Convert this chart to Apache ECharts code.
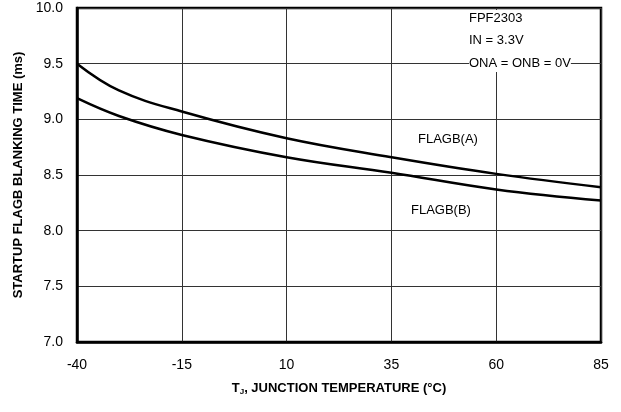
<!DOCTYPE html>
<html lang="en">
<head>
<meta charset="UTF-8">
<title>FPF2303 FLAGB blanking time</title>
<script src="https://cdn.jsdelivr.net/npm/echarts@6/dist/echarts.min.js"></script>
<style>
  html, body { margin: 0; padding: 0; background: #fff; }
  #chart { width: 621px; height: 412px; }
</style>
</head>
<body>
<div id="chart"></div>
<script>
// junction temperature (°C) and blanking time (ms)
var temps = [-40, -30, -15, 10, 35, 60, 85];
var flagbA = [9.5, 9.26, 9.07, 8.83, 8.66, 8.51, 8.39];
var flagbB = [9.19, 9.03, 8.86, 8.66, 8.52, 8.37, 8.27];
var notes = ['FPF2303', 'IN = 3.3V', 'ONA = ONB = 0V'];

var font = 'Liberation Sans, Arial, sans-serif';

function pairs(xs, ys) {
    return xs.map(function (x, i) { return [x, ys[i]]; });
}

function label(text, x, y, lh) {
    return {
        type: 'text', left: x, top: y, z: 10,
        style: { text: text, font: '13px ' + font, fill: '#000', lineHeight: lh || 15, backgroundColor: '#fff' }
    };
}

var chart = echarts.init(document.getElementById('chart'));

chart.setOption({
    animation: false,
    grid: {
        left: 77, right: 20, top: 8, bottom: 70,
        show: true, borderColor: '#000', borderWidth: 2.5
    },
    xAxis: {
        type: 'value', min: -40, max: 85, interval: 25,
        axisLine: { show: true, onZero: false, lineStyle: { color: '#000', width: 2.5 } },
        axisTick: { show: false },
        splitLine: { show: true, lineStyle: { color: '#333', width: 1 } },
        axisLabel: { color: '#000', fontFamily: font, fontSize: 14, margin: 16 },
        name: '{b|T}{s|J}{b|, JUNCTION TEMPERATURE (°C)}',
        nameLocation: 'middle', nameGap: 38,
        nameTextStyle: {
            rich: {
                b: { fontFamily: font, fontWeight: 'bold', fontSize: 13, color: '#000' },
                s: { fontFamily: font, fontWeight: 'bold', fontSize: 8, color: '#000', padding: [8, 0, 0, 0] }
            }
        }
    },
    yAxis: {
        type: 'value', min: 7, max: 10, interval: 0.5,
        axisLine: { show: true, onZero: false, lineStyle: { color: '#000', width: 2.5 } },
        axisTick: { show: false },
        splitLine: { show: true, lineStyle: { color: '#333', width: 1 } },
        axisLabel: {
            color: '#000', fontFamily: font, fontSize: 14, margin: 14,
            formatter: function (v) { return v.toFixed(1); }
        },
        name: 'STARTUP FLAGB BLANKING TIME (ms)',
        nameLocation: 'middle', nameGap: 52,
        nameTextStyle: { fontFamily: font, fontWeight: 'bold', fontSize: 13, color: '#000' }
    },
    graphic: [
        label(notes[0], 469, 10, 16),
        label(notes[1], 469, 26, 28),
        label(notes[2], 469, 54, 18),
        label('FLAGB(A)', 418, 132),
        label('FLAGB(B)', 411, 203)
    ],
    series: [
        {
            name: 'FLAGB(A)', type: 'line', smooth: 0.4, symbol: 'none',
            data: pairs(temps, flagbA),
            lineStyle: { color: '#000', width: 2.5 }
        },
        {
            name: 'FLAGB(B)', type: 'line', smooth: 0.4, symbol: 'none',
            data: pairs(temps, flagbB),
            lineStyle: { color: '#000', width: 2.5 }
        }
    ]
});
</script>
</body>
</html>
